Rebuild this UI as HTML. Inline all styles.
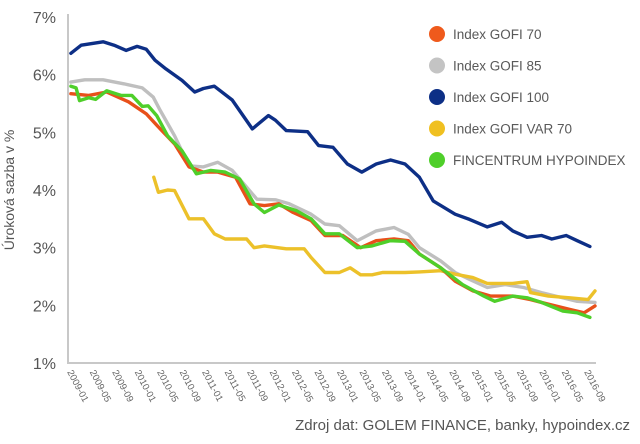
<!DOCTYPE html>
<html><head><meta charset="utf-8"><style>
html,body{margin:0;padding:0;background:#fff;}
svg{display:block;font-family:"Liberation Sans",sans-serif;}
</style></head><body>
<svg id="chart" width="640" height="444" viewBox="0 0 640 444">
<g id="axes"></g>
<g id="series"></g>
<g id="legend"></g>
<text x="14" y="190" transform="rotate(-90 14 190)" text-anchor="middle" font-size="14" fill="#555">Úroková sazba v %</text>
<text x="630" y="430" text-anchor="end" font-size="15" fill="#555">Zdroj dat: GOLEM FINANCE, banky, hypoindex.cz</text>
</svg>
<script>
const yTicks = [1,2,3,4,5,6,7];
const xLabels = ["2009-01","2009-05","2009-09","2010-01","2010-05","2010-09","2011-01","2011-05","2011-09","2012-01","2012-05","2012-09","2013-01","2013-05","2013-09","2014-01","2014-05","2014-09","2015-01","2015-05","2015-09","2016-01","2016-05","2016-09"];
const seriesNames = ["Index GOFI 70","Index GOFI 85","Index GOFI 100","Index GOFI VAR 70","FINCENTRUM HYPOINDEX"];

const gofi85Months = [0.5,2.9,6.1,9.8,12.9,14.8,16,18.5,21,23.5,26,28.5,31,32.8,36,38.4,42.2,44.6,47.1,50.2,53.5,56.6,59.1,61,64.7,67.2,69.7,72.8,75.9,79.1,82.2,84.7,88.4,91.5];
const gofi85Values = [5.87,5.91,5.91,5.84,5.77,5.61,5.38,4.94,4.42,4.40,4.48,4.34,4.05,3.84,3.83,3.76,3.58,3.41,3.38,3.12,3.29,3.35,3.23,3.00,2.77,2.57,2.45,2.31,2.36,2.31,2.22,2.16,2.07,2.05];

const gofi70Months = [0.5,3.6,6.7,10.5,13.6,16,18.5,21,23.5,26,29.1,31.6,34.1,36.6,39.1,42.2,44.6,47.7,50.8,53.5,56.6,59.1,61,64.7,67.2,70.3,73.4,77.2,80.3,83.4,87.1,89.6,91.5];
const gofi70Values = [5.67,5.64,5.70,5.53,5.32,5.06,4.80,4.40,4.31,4.31,4.22,3.76,3.73,3.76,3.61,3.47,3.21,3.21,3.00,3.12,3.15,3.12,2.89,2.65,2.42,2.25,2.16,2.16,2.10,2.02,1.93,1.87,1.99];

const var70Months = [14.9,15.7,17.3,18.5,21,23.5,25.4,27.3,31,32.3,34.1,37.9,41,42.2,44.6,47.1,49,50.8,52.8,54.6,58.5,61,64.7,67.2,70.3,72.8,77.2,79.7,80.3,83.4,87.1,90.3,91.5];
const var70Values = [4.22,3.96,4.00,3.99,3.50,3.50,3.24,3.15,3.15,3.00,3.03,2.98,2.98,2.83,2.57,2.57,2.65,2.53,2.53,2.57,2.57,2.58,2.60,2.54,2.48,2.38,2.38,2.41,2.22,2.16,2.13,2.10,2.25];

const hypoMonths = [0.5,1.4,2,3.6,4.8,6.7,9.2,11.1,12.9,13.9,15.4,17.3,19.8,22.3,24.8,27.3,29.8,32.3,34.1,36.6,39.7,42.2,44.6,47.1,50.2,52.8,55.9,58.5,61,64.7,68.5,72.2,74.1,77.2,79.7,82.2,85.9,88.4,90.6];
const hypoValues = [5.80,5.77,5.55,5.60,5.57,5.72,5.64,5.64,5.45,5.46,5.29,4.94,4.68,4.28,4.34,4.31,4.19,3.76,3.61,3.74,3.64,3.50,3.24,3.24,3.00,3.03,3.12,3.11,2.89,2.65,2.36,2.16,2.07,2.16,2.13,2.05,1.90,1.87,1.79];

const gofi100Months = [0.5,2.3,6.1,8,10.1,12,13.6,15.1,17,19.8,22,23.5,25.4,28.5,32,34.8,36,37.9,41.6,43.5,46,48.5,51,53.5,56,58.5,61,63.4,67.2,69.7,72.8,75.3,77.2,79.7,82.2,84,86.5,88.4,90.6];
const gofi100Values = [6.37,6.51,6.57,6.51,6.42,6.49,6.44,6.25,6.10,5.90,5.70,5.76,5.80,5.56,5.06,5.29,5.21,5.03,5.01,4.77,4.74,4.45,4.31,4.45,4.52,4.45,4.22,3.81,3.58,3.49,3.36,3.44,3.29,3.18,3.21,3.15,3.21,3.12,3.02];

const NS="http://www.w3.org/2000/svg";
const X0=68, XM=5.76, Y1=363, YU=57.67, LBL=5.62;
function xScale(m){return X0+m*XM;}
function labelX(i){return X0+i*4*LBL;}
function yScale(v){return Y1-(v-1)*YU;}
function mk(tag,attrs,parent){const e=document.createElementNS(NS,tag);for(const k in attrs)e.setAttribute(k,attrs[k]);parent.appendChild(e);return e;}

const axes=document.getElementById('axes');
const yAxis=mk('line',{x1:68,y1:14,x2:68,y2:363,stroke:'#c8c8c8','stroke-width':2},axes);


const xAxis=mk('line',{x1:67,y1:363,x2:596,y2:363,stroke:'#c8c8c8','stroke-width':2},axes);


yTicks.forEach(v=>{
  const t=mk('text',{x:56,y:yScale(v)+6,'text-anchor':'end','font-size':16,fill:'#555'},axes);
  t.textContent=v+'%';
  
  
});
xLabels.forEach((s,i)=>{
  const x=labelX(i)-1, y=372;
  const t=mk('text',{x:x,y:y,'font-size':9.5,fill:'#666',transform:`rotate(62 ${x} ${y})`},axes);
  t.textContent=s;
  
  
});

const sg=document.getElementById('series');
function line(months,values,color,name){
  const d=months.map((m,i)=>(i?'L':'M')+xScale(m).toFixed(1)+' '+yScale(values[i]).toFixed(1)).join(' ');
  const p=mk('path',{d:d,fill:'none',stroke:color,'stroke-width':3.4,'stroke-linejoin':'round','stroke-linecap':'round'},sg);
  
  
}
line(gofi85Months,gofi85Values,'#bfbfbf','line-gofi-85');
line(var70Months,var70Values,'#ecc12a','line-gofi-var-70');
line(gofi70Months,gofi70Values,'#e8501a','line-gofi-70');
line(hypoMonths,hypoValues,'#4fcf2a','line-fincentrum-hypoindex');
line(gofi100Months,gofi100Values,'#0d2f86','line-gofi-100');

const colors=['#ef5a1c','#c4c4c4','#0d2f86','#f0c020','#4fcf2a'];
const lg=document.getElementById('legend');
seriesNames.forEach((n,i)=>{
  const y=34+i*31.5;
  const c=mk('circle',{cx:437,cy:y,r:8,fill:colors[i]},lg);
  
  
  const t=mk('text',{x:453,y:y+5,'font-size':13.5,fill:'#595959'},lg);
  t.textContent=n;
  
  
});
</script>
</body></html>
